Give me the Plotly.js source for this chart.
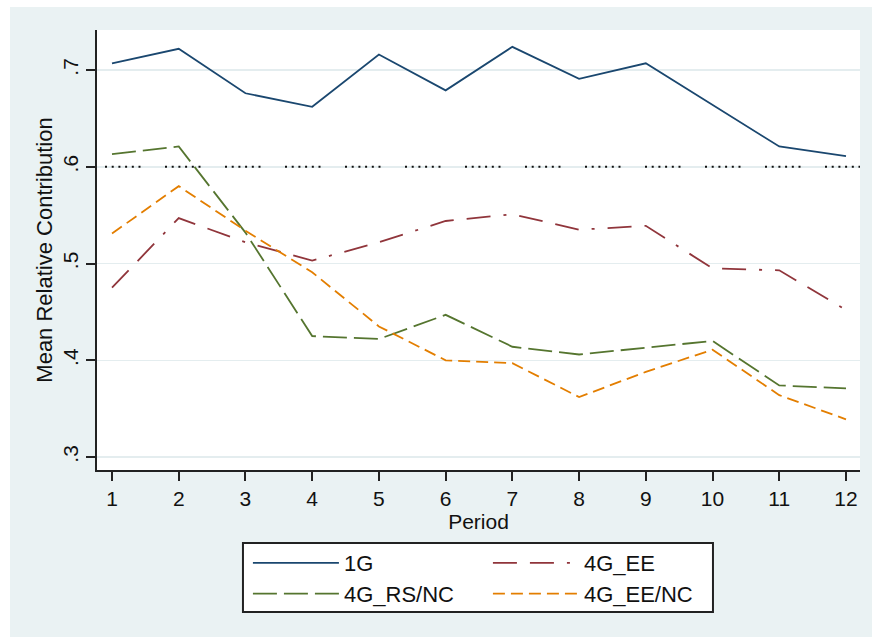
<!DOCTYPE html>
<html>
<head>
<meta charset="utf-8">
<script src="https://cdn.plot.ly/plotly-3.0.1.min.js"></script>
<style>
  html, body { margin: 0; padding: 0; background: #ffffff; }
  #chart { position: absolute; left: 10px; top: 7px; width: 862px; height: 630px; }
</style>
</head>
<body>
<div id="chart"></div>
<script>
// ---- data ----
const periods = [1, 2, 3, 4, 5, 6, 7, 8, 9, 10, 11, 12];
const seriesNames = ['1G', '4G_EE', '4G_RS/NC', '4G_EE/NC'];
const g1      = [0.707, 0.722, 0.676, 0.662, 0.716, 0.679, 0.724, 0.691, 0.707, 0.664, 0.621, 0.611];
const g4EE    = [0.475, 0.547, 0.522, 0.503, 0.522, 0.544, 0.551, 0.535, 0.539, 0.495, 0.493, 0.452];
const g4RSNC  = [0.613, 0.621, 0.532, 0.425, 0.422, 0.447, 0.414, 0.406, 0.413, 0.420, 0.374, 0.371];
const g4EENC  = [0.531, 0.580, 0.534, 0.491, 0.435, 0.400, 0.397, 0.362, 0.388, 0.411, 0.364, 0.339];
const yTickVals = [0.3, 0.4, 0.5, 0.6, 0.7];
const yTickText = ['.3', '.4', '.5', '.6', '.7'];
const refLineValue = 0.6;

const FONT = 'Liberation Sans, Arial, sans-serif';
const colors = ['#1A476F', '#90353B', '#55752F', '#E37E00'];
const dashes = ['solid', '24px,13px,24px,13px,3px,13px', '24px,7px', '12px,6px'];
const seriesVals = [g1, g4EE, g4RSNC, g4EENC];
const legendIds = ['legend', 'legend', 'legend2', 'legend2'];

const traces = seriesNames.map((name, i) => ({
  type: 'scatter',
  mode: 'lines',
  x: periods,
  y: seriesVals[i],
  name: name,
  legend: legendIds[i],
  line: { color: colors[i], width: 1.8, dash: dashes[i] },
  hoverinfo: 'x+y+name'
}));

const legendCommon = {
  orientation: 'h',
  bgcolor: 'rgba(0,0,0,0)',
  borderwidth: 0,
  font: { family: FONT, size: 22, color: '#111' },
  itemwidth: 86,
  entrywidth: 139,
  entrywidthmode: 'pixels',
  xanchor: 'left',
  yanchor: 'top',
  x: 0.1978,
  traceorder: 'normal'
};

const layout = {
  width: 862,
  height: 630,
  margin: { l: 87, r: 12, t: 23, b: 167 },
  paper_bgcolor: '#EAF2F3',
  plot_bgcolor: '#FFFFFF',
  font: { family: FONT, size: 21, color: '#111' },
  showlegend: true,
  legend: Object.assign({}, legendCommon, { y: -0.1637 }),
  legend2: Object.assign({}, legendCommon, { y: -0.2336 }),
  xaxis: {
    range: [0.775, 12.21],
    tickmode: 'array',
    tickvals: periods,
    ticks: 'outside',
    ticklen: 9,
    tickwidth: 2,
    tickcolor: '#222',
    showline: true,
    linewidth: 2,
    linecolor: '#222',
    showgrid: false,
    zeroline: false,
    tickfont: { family: FONT, size: 21, color: '#111' },
    title: { text: 'Period', font: { family: FONT, size: 21, color: '#111' }, standoff: 0 }
  },
  yaxis: {
    range: [0.2866, 0.7414],
    tickmode: 'array',
    tickvals: yTickVals,
    ticktext: yTickText,
    tickangle: -90,
    ticks: 'outside',
    ticklen: 9,
    tickwidth: 2,
    tickcolor: '#222',
    showline: true,
    linewidth: 2,
    linecolor: '#222',
    showgrid: true,
    gridcolor: '#E4EDEF',
    gridwidth: 1.5,
    zeroline: false,
    tickfont: { family: FONT, size: 21, color: '#111' },
    title: { text: 'Mean Relative Contribution', font: { family: FONT, size: 22, color: '#111' }, standoff: 0 }
  },
  shapes: [
    {
      type: 'line', xref: 'paper', yref: 'y',
      x0: 0, x1: 1, y0: refLineValue, y1: refLineValue,
      line: { color: '#111', width: 2, dash: '0px,8px,2px,4.7px,2px,4.7px,2px,4.7px,2px,4.7px,2px,4.7px,2px,16.5px' },
      layer: 'above'
    },
    {
      type: 'rect', xref: 'paper', yref: 'paper',
      x0: 0.1913, x1: 0.8073, y0: -0.1659, y1: -0.3227,
      fillcolor: '#FFFFFF',
      line: { color: '#222', width: 2 },
      layer: 'below'
    }
  ]
};

Plotly.newPlot('chart', traces, layout, { displayModeBar: false, staticPlot: true });
</script>
</body>
</html>
